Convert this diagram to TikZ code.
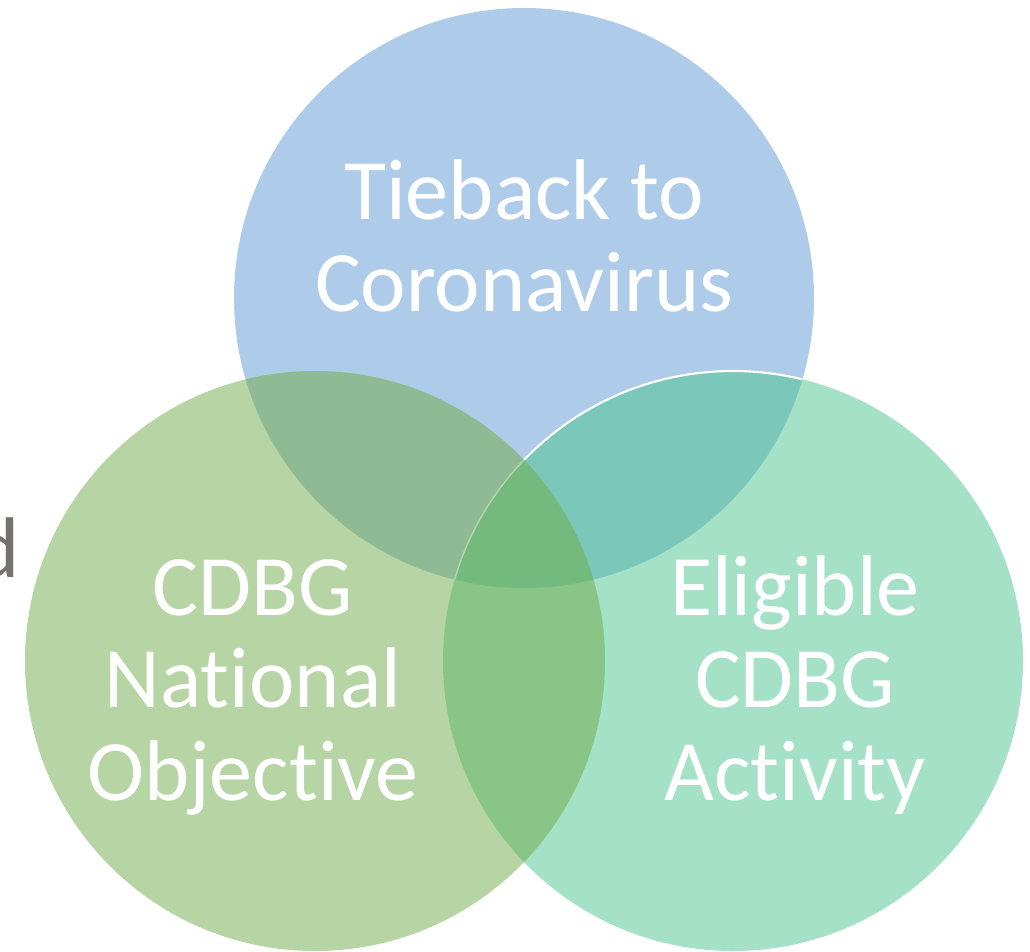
\documentclass[tikz,border=0pt]{standalone}
\usepackage{fontspec}
\setmainfont{Carlito}[RawFeature=-liga]

\definecolor{topblue}{HTML}{AECCE9}
\definecolor{leftgreen}{HTML}{B7D5A4}
\definecolor{rightgreen}{HTML}{A5E1C7}
\definecolor{tlmix}{HTML}{8FBA94}
\definecolor{trmix}{HTML}{7BC8BB}
\definecolor{lrmix}{HTML}{88C587}
\definecolor{allmix}{HTML}{74B97E}
\definecolor{edgegreen}{HTML}{B3D7A8}
\definecolor{textgray}{HTML}{767171}

\begin{document}
\begin{tikzpicture}[
    x=0.02cm, y=-0.02cm,
    label/.style={text=white, align=center, font=\fontsize{49}{52.5}\selectfont, inner sep=0pt},
    side/.style={text=textgray, font=\fontsize{49}{52.5}\selectfont, inner sep=0pt}
]

\useasboundingbox (0,0) rectangle (1030,952);

% Centres des trois cercles
\coordinate (T) at (524,298); % Tieback
\coordinate (L) at (315,661); % National Objective
\coordinate (R) at (733,661); % Eligible Activity
\def\rad{290}

% Texte coupé à gauche
\node[side, anchor=base east] (cut) at (20,577) {d};

% Cercles pleins
\fill[topblue] (T) circle (\rad);
\fill[rightgreen] (R) circle (\rad);
\fill[leftgreen] (L) circle (\rad);

% Intersections deux à deux
\begin{scope}
\clip (T) circle (\rad);
\fill[trmix] (R) circle (\rad);
\draw[white, line width=1.2pt] (R) circle (\rad);
\fill[tlmix] (L) circle (\rad);
\end{scope}
\begin{scope}
\clip (L) circle (\rad);
\fill[lrmix] (R) circle (\rad);
\end{scope}

% Centre commun
\begin{scope}
\clip (T) circle (\rad);
\clip (L) circle (\rad);
\fill[allmix] (R) circle (\rad);
\draw[edgegreen, line width=0.8pt] (R) circle (\rad);
\end{scope}

% Etiquettes (ancre sur la dernière ligne)
\node[label, anchor=base] (tieback) at (524,312) {Tieback to\\Coronavirus};
\node[label, anchor=base] (national) at (253,800) {CDBG\\National\\Objective};
\node[label, anchor=base] (eligible) at (795,800) {Eligible\\CDBG\\Activity};

\end{tikzpicture}
\end{document}
